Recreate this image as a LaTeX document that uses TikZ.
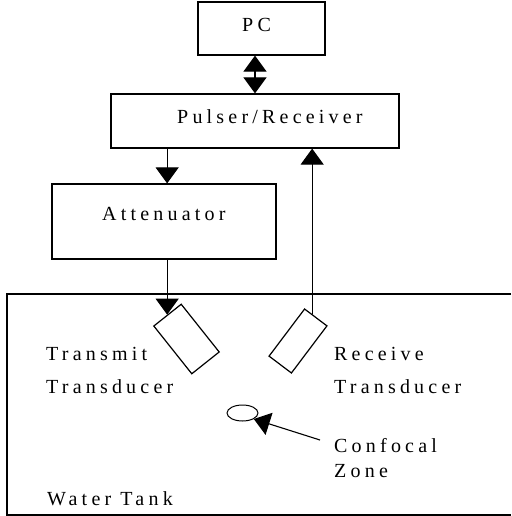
\documentclass[tikz,border=0pt]{standalone}
\usepackage{fontspec}
\setmainfont{Liberation Serif}
\newfontfamily\spacedfont[LetterSpace=21]{Liberation Serif}
\usetikzlibrary{arrows.meta,shapes.geometric,calc}
\begin{document}
\begin{tikzpicture}[x=1pt,y=-1pt,
  box/.style={draw, line width=1.2pt, inner sep=0pt},
  lbl/.style={font=\spacedfont\fontsize{20}{24}\selectfont, inner sep=0pt, anchor=base west},
  tri/.tip={Triangle[width=23pt,length=16pt]},
  conn/.style={line width=1.1pt, -tri},
  ]
\useasboundingbox (0,0) rectangle (511,516);
% boxes
\node[box, minimum width=127pt, minimum height=53pt] (pc) at (261.5,28.5) {};
\node[box, minimum width=288pt, minimum height=54pt] (pr) at (255,121) {};
\node[box, minimum width=224pt, minimum height=75pt] (at) at (164,221.5) {};
% water tank
\draw[line width=1.2pt] (511,294) -- (7,294) -- (7,515) -- (511,515);
% transducers
\node[box, minimum width=61pt, minimum height=35pt, rotate=-51.5] (tx) at (186.5,339) {};
\node[box, minimum width=59pt, minimum height=28pt, rotate=53] (rx) at (298,341) {};
% confocal zone
\node[draw, ellipse, line width=1pt, minimum width=31pt, minimum height=16pt, inner sep=0pt] (cz) at (242.5,413) {};
% labels
\node[lbl] (pct) at (242,32) {PC};
\node[lbl] (prt) at (177,123) {Pulser/Receiver};
\node[lbl] (att) at (102,220) {Attenuator};
\node[lbl] (t1) at (46,360) {Transmit};
\node[lbl] (t2) at (46,393) {Transducer};
\node[lbl] (r1) at (334,360) {Receive};
\node[lbl] (r2) at (334,393) {Transducer};
\node[lbl] (c1) at (334,452) {Confocal};
\node[lbl] (c2) at (334,477) {Zone};
\node[lbl] (wt) at (47,505) {Water Tank};
% connectors
\coordinate (dbl) at (255,0);
\draw[line width=1.1pt, tri-tri] (pc.south -| dbl) -- (pr.north -| dbl);
\draw[conn] (pr.south -| tx.west) -- (at.north -| tx.west);
\draw[conn] (at.south -| tx.west) -- (tx.west);
\coordinate (rxtop) at ($(rx.north east)!0.33!(rx.south east)$);
\draw[conn] (rxtop) -- (rxtop |- pr.south);
\coordinate (czfrom) at (320,440);
\draw[conn] (czfrom) -- (cz.south east);
\end{tikzpicture}
\end{document}
